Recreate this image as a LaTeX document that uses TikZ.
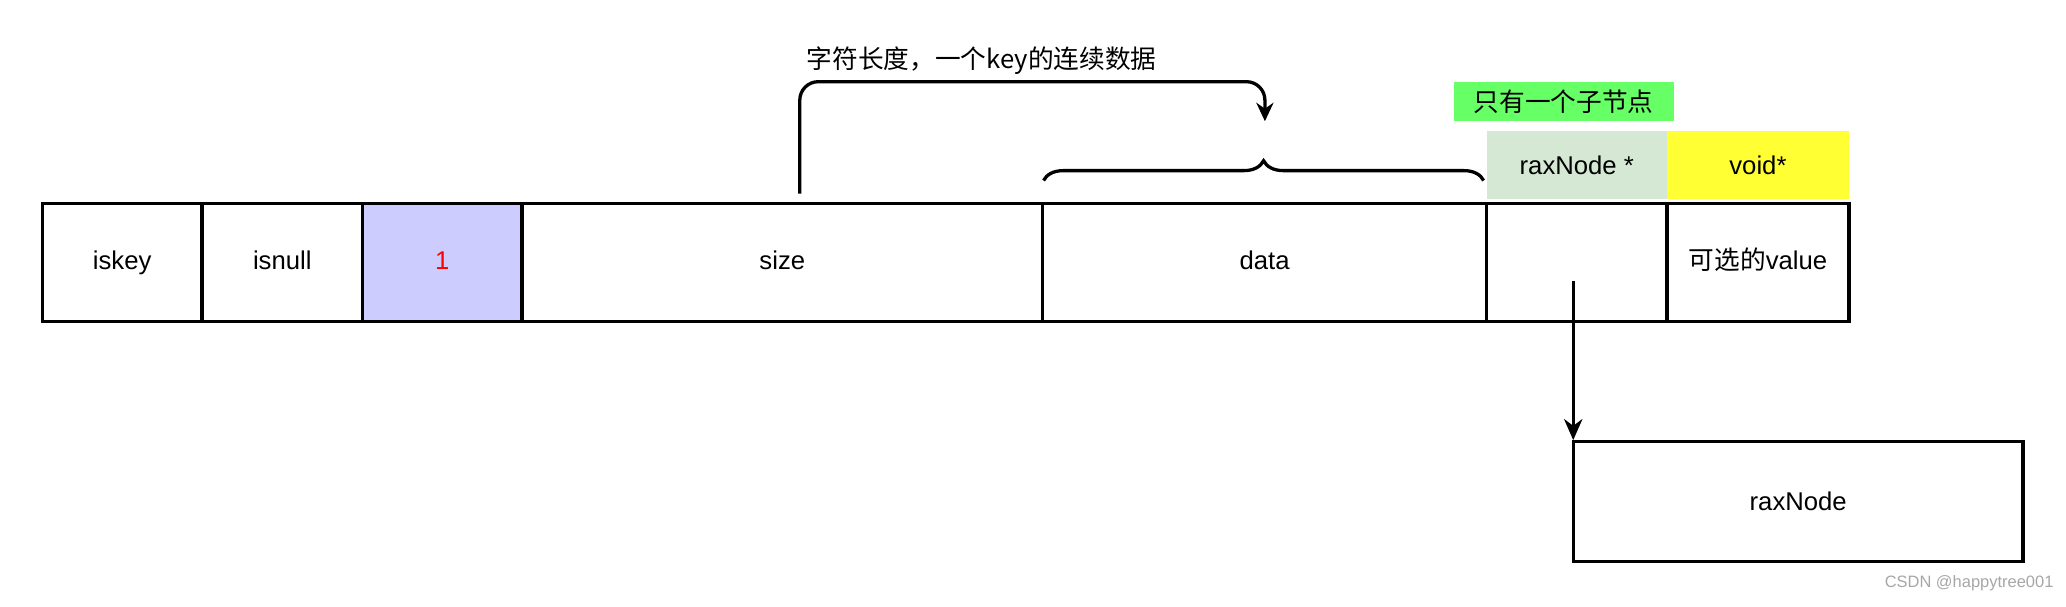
\documentclass[tikz,border=0pt]{standalone}
\usepackage{fontspec}
\setmainfont{Liberation Sans}
\newfontfamily\cjk{Noto Sans CJK SC}
\usetikzlibrary{decorations.pathreplacing,arrows.meta}
\definecolor{hdrgreen}{HTML}{D5E8D4}
\definecolor{hdryellow}{HTML}{FFFF33}
\definecolor{lblgreen}{HTML}{66FF66}
\definecolor{cellblue}{HTML}{CCCCFF}
\tikzset{cell/.style={draw,line width=2.5pt,minimum height=90pt,inner sep=0pt},
 hdr/.style={inner sep=0pt,minimum height=52pt},
 txt/.style={font=\fontsize{19.5pt}{22pt}\selectfont}}
\begin{document}
\begin{tikzpicture}[x=1pt,y=-1pt,txt]
\useasboundingbox (0,0) rectangle (1568,460);
\foreach \a/\b/\n/\t in {31/152/c1/iskey,152/274/c2/isnull,395/790/c4/size,790/1127/c5/data,1127/1264/c6/{},1264/1402/c7/{{\cjk 可选的}value}}{
 \node[cell,minimum width={\b-\a},anchor=north west,text height=14pt,text depth=4pt] (\n) at (\a,153) {\t};}
\node[cell,fill=cellblue,text=red,minimum width=121,anchor=north west,text height=14pt,text depth=4pt] (c3) at (274,153) {1};
\node[hdr,fill=hdrgreen,minimum width=137,anchor=north west] (h1) at (1128,99) {raxNode *};
\node[hdr,fill=hdryellow,minimum width=138,anchor=north west] (h2) at (1265,99) {void*};
\node[fill=lblgreen,minimum width=167,minimum height=30,inner sep=0pt,anchor=north west] (lbl) at (1103,62) {\cjk 只有一个子节点};
\node (note) at (745,46) {\cjk 字符长度，一个key的连续数据};
\coordinate (bl) at (792,137); \coordinate (br) at (1126,137);
\draw[line width=2.5pt,decorate,decoration={brace,amplitude=15pt}] (bl) -- (br);
\coordinate (s) at (607,147); \coordinate (t) at (960,92);
\draw[line width=2.5pt,rounded corners=14pt,-{Stealth[length=14pt,width=13pt]}] (s) -- (607,62) -- (960,62) -- (t);
\node[cell,minimum width=341,minimum height=91,anchor=north west] (rn) at (1193,334) {raxNode};
\coordinate (p) at (1194,213);
\draw[line width=2pt,-{Stealth[length=16pt,width=14pt]}] (p) -- (p |- rn.north);
\node[text=gray!70,font=\fontsize{12.5pt}{14pt}\selectfont,anchor=east] (wm) at (1562,443) {CSDN @happytree001};
\end{tikzpicture}
\end{document}
